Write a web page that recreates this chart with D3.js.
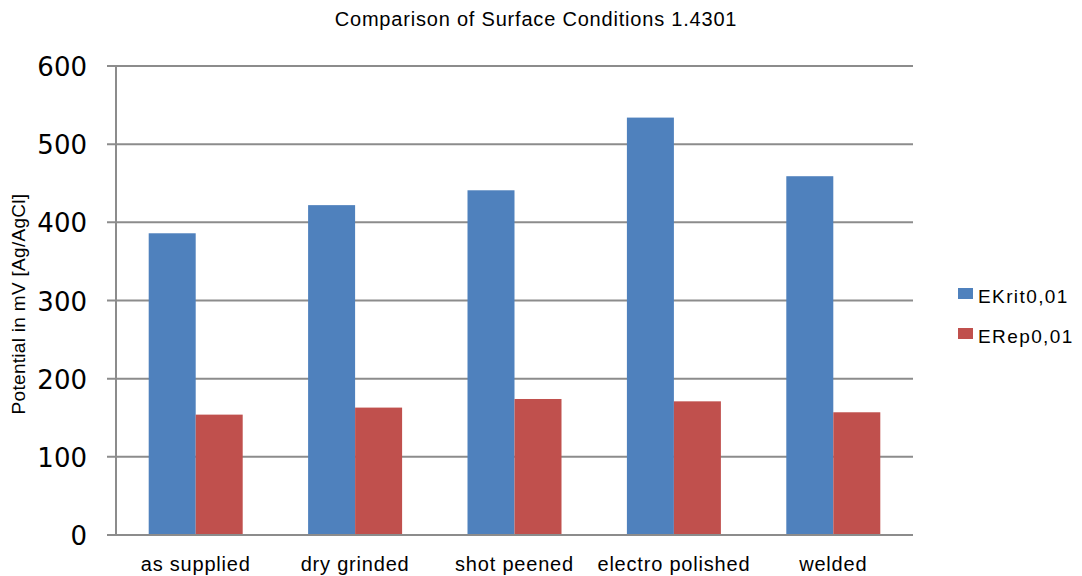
<!DOCTYPE html>
<html>
<head>
<meta charset="utf-8">
<script src="https://cdn.jsdelivr.net/npm/d3@7"></script>
<style>
  body { margin: 0; background: #fff; }
  svg { display: block; }
</style>
</head>
<body>
<svg id="chart" width="1082" height="576"></svg>
<script>
var categories = ['as supplied', 'dry grinded', 'shot peened', 'electro polished', 'welded'];
var seriesNames = ['EKrit0,01', 'ERep0,01'];
var ekrit = [386, 422, 441, 534, 459];
var erep = [154, 163, 174, 171, 157];
var yTicks = [0, 100, 200, 300, 400, 500, 600];
var colors = ['#4f81bd', '#c0504d'];

(function() {
	'use strict';

	var svg = d3.select('#chart');
	var plotLeft = 116, plotRight = 913, plotTop = 66, plotBottom = 535;
	var sans = 'Liberation Sans, Arial, sans-serif';

	var x = d3.scaleBand().domain(categories).range([plotLeft, plotRight]);
	var x1 = d3.scaleBand().domain(seriesNames).range([0, 94]);
	var y = d3.scaleLinear().domain([0, 600]).range([plotBottom, plotTop]);

	var rows = categories.map(function(c, i) {
		return {cat: c, vals: [ekrit[i], erep[i]]};
	});

	// gridlines
	svg.append('g').selectAll('line').data(yTicks).enter().append('line')
		.attr('x1', plotLeft - 9).attr('x2', plotRight)
		.attr('y1', function(d) {return y(d);}).attr('y2', function(d) {return y(d);})
		.attr('stroke', '#8c8c8c').attr('stroke-width', 2);

	// left axis line
	svg.append('line')
		.attr('x1', plotLeft).attr('x2', plotLeft).attr('y1', plotTop).attr('y2', plotBottom)
		.attr('stroke', '#8c8c8c').attr('stroke-width', 2);

	// bars
	var groups = svg.append('g').selectAll('g').data(rows).enter().append('g')
		.attr('transform', function(d) {return 'translate(' + (x(d.cat) + x.bandwidth() / 2 - 47) + ',0)';});
	groups.selectAll('rect').data(function(d) {
		return d.vals.map(function(v, i) {return {name: seriesNames[i], v: v, i: i};});
	}).enter().append('rect')
		.attr('x', function(d) {return x1(d.name);})
		.attr('width', x1.bandwidth())
		.attr('y', function(d) {return y(d.v);})
		.attr('height', function(d) {return plotBottom - y(d.v);})
		.attr('fill', function(d) {return colors[d.i];});

	// bottom axis line on top of bars
	svg.append('line')
		.attr('x1', plotLeft - 9).attr('x2', plotRight).attr('y1', plotBottom).attr('y2', plotBottom)
		.attr('stroke', '#8c8c8c').attr('stroke-width', 2);

	// y tick labels
	svg.append('g').selectAll('text').data(yTicks).enter().append('text')
		.attr('x', 87).attr('y', function(d) {return y(d) + 10;})
		.attr('text-anchor', 'end')
		.attr('font-family', 'DejaVu Sans, sans-serif').attr('font-size', 26)
		.attr('fill', '#000')
		.text(function(d) {return d;});

	// x labels
	svg.append('g').selectAll('text').data(categories).enter().append('text')
		.attr('x', function(d) {return x(d) + x.bandwidth() / 2;})
		.attr('y', 571)
		.attr('text-anchor', 'middle')
		.attr('font-family', sans).attr('font-size', 20).attr('letter-spacing', 0.8)
		.text(function(d) {return d;});

	// title
	svg.append('text')
		.attr('x', 536).attr('y', 26)
		.attr('text-anchor', 'middle')
		.attr('font-family', sans).attr('font-size', 20).attr('letter-spacing', 0.8)
		.text('Comparison of Surface Conditions 1.4301');

	// y axis title
	svg.append('text')
		.attr('transform', 'translate(25,304) rotate(-90)')
		.attr('text-anchor', 'middle')
		.attr('font-family', sans).attr('font-size', 19).attr('letter-spacing', 0.3)
		.text('Potential in mV [Ag/AgCl]');

	// legend
	var legend = svg.append('g').selectAll('g').data(seriesNames).enter().append('g')
		.attr('transform', function(d, i) {return 'translate(958,' + (288 + i * 40) + ')';});
	legend.append('rect').attr('width', 15).attr('height', 11)
		.attr('fill', function(d, i) {return colors[i];});
	legend.append('text').attr('x', 20).attr('y', 15)
		.attr('font-family', sans).attr('font-size', 19).attr('letter-spacing', 1.4)
		.text(function(d) {return d;});
})();
</script>
</body>
</html>
